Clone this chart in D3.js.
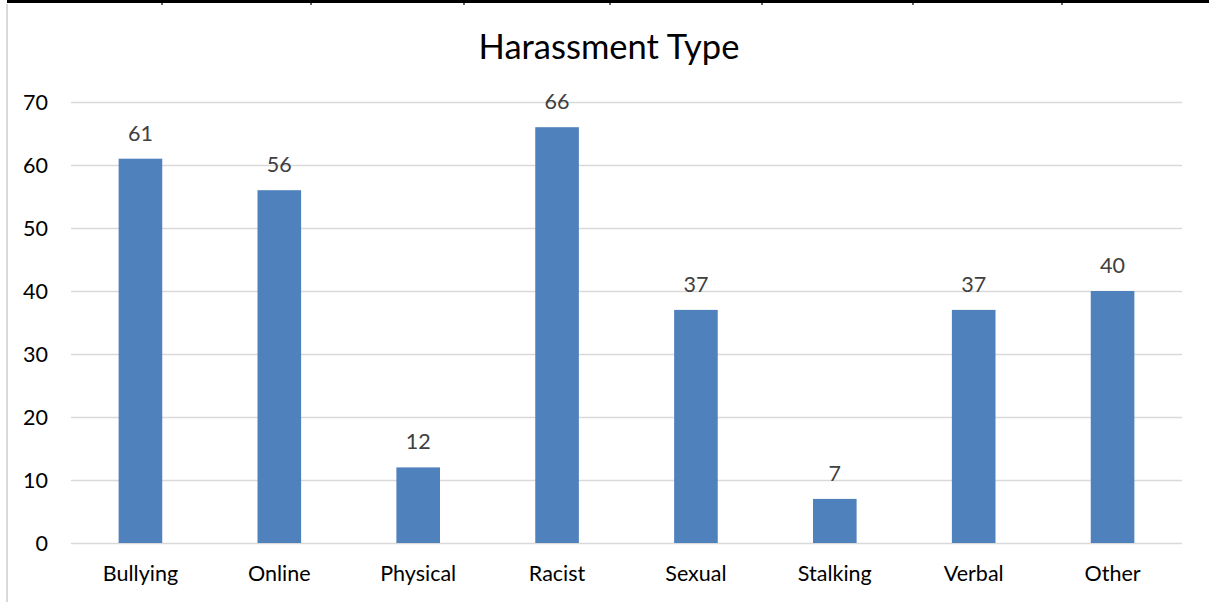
<!DOCTYPE html>
<html><head><meta charset="utf-8">
<script src="https://cdn.jsdelivr.net/npm/d3@7"></script>
<style>html,body{margin:0;padding:0;background:#fff;}svg{display:block;}</style>
</head><body>
<svg id="c" width="1209" height="602"></svg>
<script>
const categories = ["Bullying","Online","Physical","Racist","Sexual","Stalking","Verbal","Other"];
const values = [61,56,12,66,37,7,37,40];
const yTicks = [0,10,20,30,40,50,60,70];
const title = "Harassment Type";
const tableCols = [162,311,464,610,762,913,1062];

const W = 1209, H = 602;
const m = {left:71, right:27, top:102, bottom:59};
const svg = d3.select("#c");
const font = "Lato, 'Open Sans', sans-serif";
const fs = 21.5;

// page/table borders
svg.append("line").attr("x1",7).attr("x2",W).attr("y1",1.5).attr("y2",1.5).attr("stroke","#000").attr("stroke-width",3);
svg.selectAll("line.tc").data(tableCols).join("line").attr("class","tc")
  .attr("x1",d=>d).attr("x2",d=>d).attr("y1",0).attr("y2",5).attr("stroke","#000").attr("stroke-width",1.2);
svg.append("line").attr("x1",7).attr("x2",7).attr("y1",4).attr("y2",H).attr("stroke","#d9d9d9").attr("stroke-width",2);

const x = d3.scaleBand().domain(categories).range([m.left, W-m.right]).paddingInner(0.686).paddingOuter(0.343);
const y = d3.scaleLinear().domain([0,70]).range([H-m.bottom, m.top]);

// gridlines
svg.append("g").selectAll("line").data(yTicks).join("line")
  .attr("x1",m.left).attr("x2",W-m.right)
  .attr("y1",d=>y(d)+0.5).attr("y2",d=>y(d)+0.5)
  .attr("stroke","#d9d9d9").attr("stroke-width",1.5);

// y axis labels
const ya = svg.append("g").attr("transform",`translate(${m.left-23},0)`)
  .call(d3.axisLeft(y).tickValues(yTicks).tickSize(0).tickPadding(0));
ya.select(".domain").remove();
ya.selectAll("text").attr("font-family",font).attr("font-size",fs).attr("fill","#000").attr("dy","0.35em");

// bars
svg.append("g").selectAll("rect").data(values).join("rect")
  .attr("x",(d,i)=>x(categories[i])).attr("width",x.bandwidth())
  .attr("y",d=>y(d)).attr("height",d=>y(0)-y(d))
  .attr("fill","#4f81bd");

// data labels
svg.append("g").selectAll("text").data(values).join("text")
  .attr("x",(d,i)=>x(categories[i])+x.bandwidth()/2).attr("y",d=>y(d)-18)
  .attr("text-anchor","middle").attr("font-family",font).attr("font-size",fs).attr("fill","#404040")
  .text(d=>d);

// x axis labels
const xa = svg.append("g").attr("transform",`translate(0,${y(0)})`)
  .call(d3.axisBottom(x).tickSize(0).tickPadding(23));
xa.select(".domain").remove();
xa.selectAll("text").attr("font-family",font).attr("font-size",fs).attr("fill","#000");

// title
svg.append("text").attr("x",609).attr("y",59).attr("text-anchor","middle")
  .attr("font-family",font).attr("font-size",34.5).attr("fill","#000").text(title);
</script>
</body></html>
